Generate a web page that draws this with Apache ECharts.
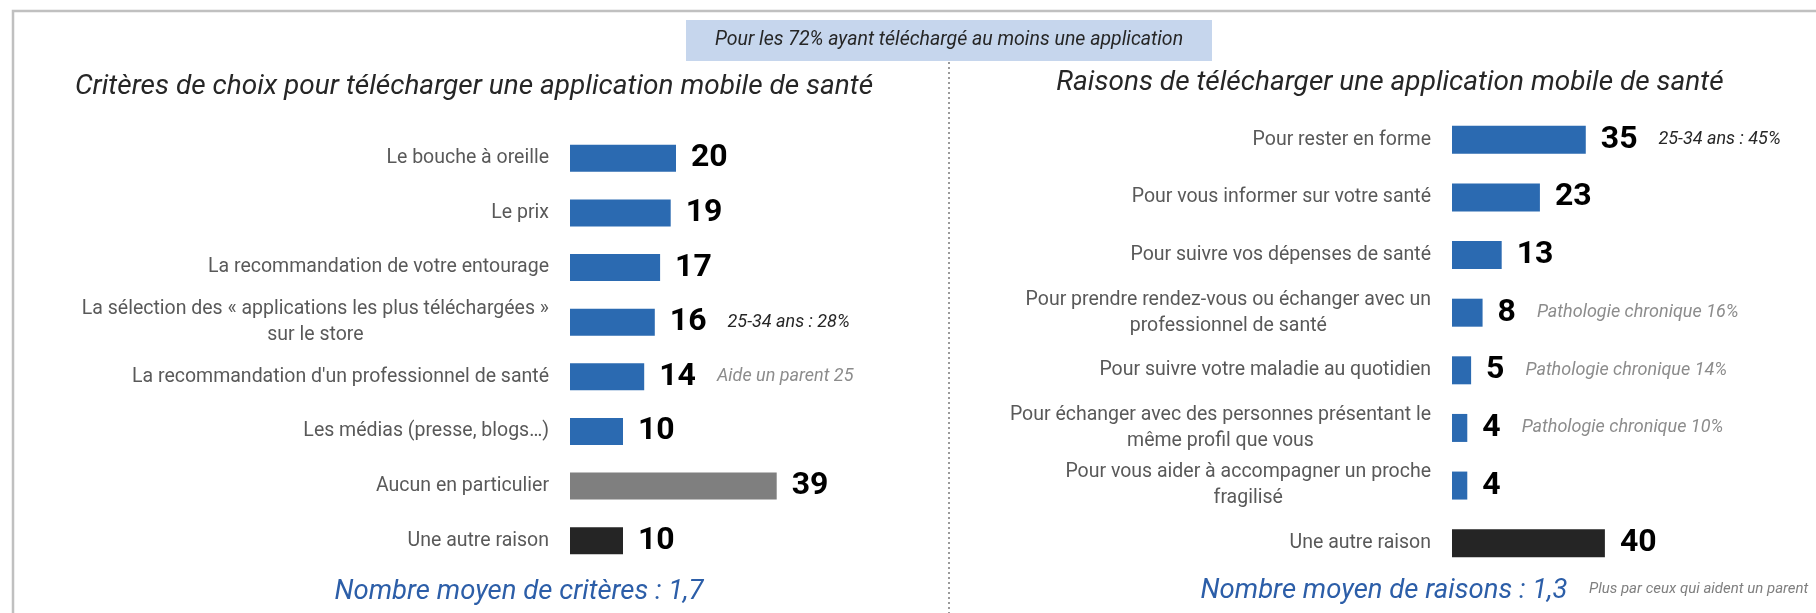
<!DOCTYPE html>
<html>
<head>
<meta charset="utf-8">
<title>Applications mobiles de santé</title>
<script src="https://cdn.jsdelivr.net/npm/echarts@6/dist/echarts.min.js"></script>
<style>
    html, body { margin: 0; padding: 0; background: #fff; }
    #main { width: 1816px; height: 613px; }
</style>
</head>
<body>
<div id="main"></div>
<script>
// critères de choix (panneau gauche)
var critereLabels = [
    'Le bouche à oreille',
    'Le prix',
    'La recommandation de votre entourage',
    'La sélection des « applications les plus téléchargées »\nsur le store',
    "La recommandation d'un professionnel de santé",
    'Les médias (presse, blogs…)',
    'Aucun en particulier',
    'Une autre raison'
];
var critereValues = [20, 19, 17, 16, 14, 10, 39, 10];
var critereColors = ['blue', 'blue', 'blue', 'blue', 'blue', 'blue', 'gray', 'black'];
var critereNotes = ['', '', '', '25-34 ans : 28%', 'Aide un parent 25', '', '', ''];
var critereNoteStyles = ['', '', '', 'd', 'g', '', '', ''];

// raisons de télécharger (panneau droit)
var raisonLabels = [
    'Pour rester en forme',
    'Pour vous informer sur votre santé',
    'Pour suivre vos dépenses de santé',
    'Pour prendre rendez-vous ou échanger avec un\nprofessionnel de santé',
    'Pour suivre votre maladie au quotidien',
    'Pour échanger avec des personnes présentant le\nmême profil que vous',
    'Pour vous aider à accompagner un proche\nfragilisé',
    'Une autre raison'
];
var raisonValues = [35, 23, 13, 8, 5, 4, 4, 40];
var raisonColors = ['blue', 'blue', 'blue', 'blue', 'blue', 'blue', 'blue', 'black'];
var raisonNotes = ['25-34 ans : 45%', '', '', 'Pathologie chronique 16%', 'Pathologie chronique 14%', 'Pathologie chronique 10%', '', ''];
var raisonNoteStyles = ['d', '', '', 'g', 'g', 'g', '', ''];

var FONT = 'Roboto, sans-serif';
var palette = { blue: '#2b6ab1', gray: '#7f7f7f', black: '#252525' };

function barData(values, colors) {
    return values.map(function (v, i) {
        return { value: v, itemStyle: { color: palette[colors[i]] } };
    });
}

function axisLabelFmt(v) {
    return v.split('\n').map(function (l) { return '{c|' + l + '}'; }).join('\n');
}

function valueLabel(notes, noteStyles) {
    return {
        show: true,
        position: 'right',
        distance: 15,
        formatter: function (p) {
            var s = '{v|' + p.value + '}';
            if (notes[p.dataIndex]) s += '{' + noteStyles[p.dataIndex] + '|' + notes[p.dataIndex] + '}';
            return s;
        },
        rich: {
            v: { fontFamily: FONT, fontWeight: 'bold', fontSize: 32, color: '#000' },
            d: { fontFamily: FONT, fontStyle: 'italic', fontSize: 18, color: '#262626', padding: [0, 0, 0, 21] },
            g: { fontFamily: FONT, fontStyle: 'italic', fontSize: 18, color: '#8c8c8c', padding: [0, 0, 0, 21] }
        }
    };
}

function catAxis(idx, labels) {
    return {
        type: 'category', gridIndex: idx, inverse: true, data: labels,
        axisLine: { show: false }, axisTick: { show: false },
        axisLabel: {
            margin: 21, align: 'right', formatter: axisLabelFmt,
            rich: { c: { align: 'center', fontFamily: FONT, fontSize: 19.5, lineHeight: 26, color: '#595959' } }
        }
    };
}

function valAxis(idx, max) {
    return {
        type: 'value', gridIndex: idx, min: 0, max: max,
        axisLine: { show: false }, axisTick: { show: false },
        axisLabel: { show: false }, splitLine: { show: false }
    };
}

var chart = echarts.init(document.getElementById('main'));

var option = {
    animation: false,
    backgroundColor: '#fff',
    grid: [
        { left: 570, top: 131, width: 371, height: 437 },
        { left: 1452, top: 111, width: 344, height: 461 }
    ],
    xAxis: [valAxis(0, 70), valAxis(1, 90)],
    yAxis: [catAxis(0, critereLabels), catAxis(1, raisonLabels)],
    series: [
        {
            type: 'bar', xAxisIndex: 0, yAxisIndex: 0, barWidth: 27,
            data: barData(critereValues, critereColors),
            label: valueLabel(critereNotes, critereNoteStyles)
        },
        {
            type: 'bar', xAxisIndex: 1, yAxisIndex: 1, barWidth: 28,
            data: barData(raisonValues, raisonColors),
            label: valueLabel(raisonNotes, raisonNoteStyles)
        }
    ],
    graphic: [
        // cadre
        { type: 'polyline', silent: true, shape: { points: [[13, 613], [13, 11], [1816, 11]] },
          style: { stroke: '#c0c0c0', lineWidth: 2.5, fill: null } },
        // séparateur pointillé
        { type: 'line', silent: true, shape: { x1: 949, y1: 62, x2: 949, y2: 613 },
          style: { stroke: '#9a9a9a', lineWidth: 2, lineDash: [2, 3] } },
        // bandeau
        { type: 'rect', silent: true, shape: { x: 686, y: 20, width: 526, height: 41 },
          style: { fill: '#c6d6ed' } },
        { type: 'text', silent: true, x: 949, y: 40,
          style: { text: 'Pour les 72% ayant téléchargé au moins une application', align: 'center', verticalAlign: 'middle',
                   fontFamily: FONT, fontStyle: 'italic', fontSize: 19.5, fill: '#262626' } },
        // titres
        { type: 'text', silent: true, x: 474, y: 87,
          style: { text: 'Critères de choix pour télécharger une application mobile de santé', align: 'center', verticalAlign: 'middle',
                   fontFamily: FONT, fontStyle: 'italic', fontSize: 28, fill: '#262626' } },
        { type: 'text', silent: true, x: 1390, y: 83,
          style: { text: 'Raisons de télécharger une application mobile de santé', align: 'center', verticalAlign: 'middle',
                   fontFamily: FONT, fontStyle: 'italic', fontSize: 28, fill: '#262626' } },
        // pieds
        { type: 'text', silent: true, x: 519, y: 592,
          style: { text: 'Nombre moyen de critères : 1,7', align: 'center', verticalAlign: 'middle',
                   fontFamily: FONT, fontStyle: 'italic', fontSize: 27.5, fill: '#2c5ea8' } },
        { type: 'text', silent: true, x: 1384, y: 591,
          style: { text: 'Nombre moyen de raisons : 1,3', align: 'center', verticalAlign: 'middle',
                   fontFamily: FONT, fontStyle: 'italic', fontSize: 27.5, fill: '#2c5ea8' } },
        { type: 'text', silent: true, x: 1589, y: 589,
          style: { text: 'Plus par ceux qui aident un parent', align: 'left', verticalAlign: 'middle',
                   fontFamily: FONT, fontStyle: 'italic', fontSize: 15, fill: '#7f7f7f' } }
    ]
};

chart.setOption(option);
</script>
</body>
</html>
